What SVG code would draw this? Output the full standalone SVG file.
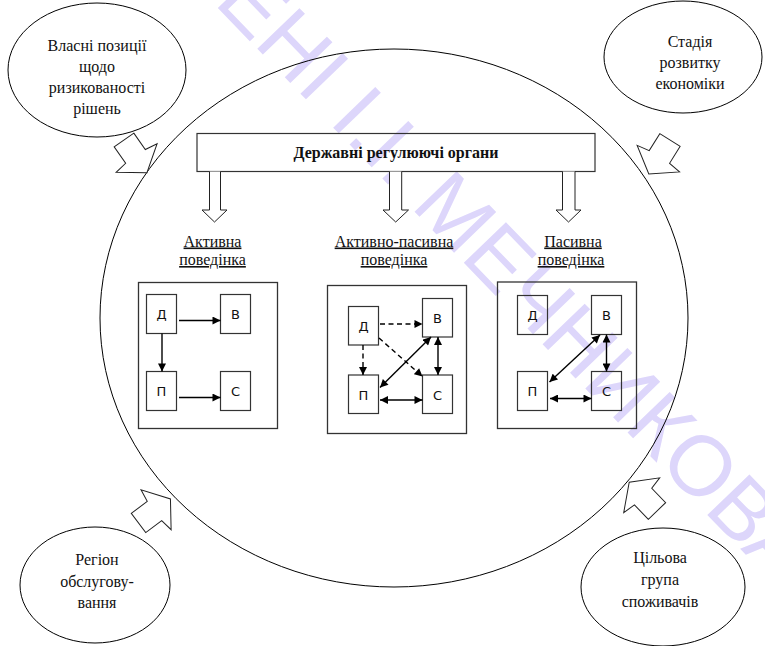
<svg xmlns="http://www.w3.org/2000/svg" width="765" height="646" viewBox="0 0 765 646">
  <style>
    .serif { font-family: "Liberation Serif", "Times New Roman", serif; font-size: 16px; fill: #111; text-anchor: middle; }
    .hdr { font-family: "Liberation Serif", "Times New Roman", serif; font-size: 16px; font-weight: bold; fill: #111; text-anchor: middle; }
    .ttl { text-decoration: underline; }
    .ltr { font-family: "DejaVu Sans", Verdana, sans-serif; font-size: 13px; fill: #111; text-anchor: middle; }
    .line { fill: none; stroke: #000; stroke-width: 1; }
    .oval { fill: #fff; stroke: #000; stroke-width: 1; }
    .frame { fill: none; stroke: #333; stroke-width: 1.3; }
    .cell { fill: none; stroke: #333; stroke-width: 1.2; }
    .hollow { fill: #fff; stroke: #222; stroke-width: 1; }
    .edge { fill: none; stroke: #000; stroke-width: 1.4; }
    .dash { stroke-dasharray: 5 3.5; }
    .wm { font-family: "Liberation Sans", Arial, sans-serif; font-size: 85px; fill: #ddd6fb; }
  </style>
  <defs>
    <marker id="ah" markerUnits="userSpaceOnUse" viewBox="0 0 10 10" refX="10" refY="5" markerWidth="9" markerHeight="8" orient="auto-start-reverse">
      <path d="M0,0 L10,5 L0,10 Z" fill="#000"/>
    </marker>
    <!-- block arrow pointing along +x, rear edge centred on the origin -->
    <path id="blk" d="M0,-12 L20,-12 L22,-25 L40,0 L22,25 L20,12 L0,12 Z"/>
  </defs>

  <rect width="765" height="646" fill="#fff"/>

  <!-- faint background watermark -->
  <text class="wm" transform="translate(213,3) rotate(46)">ЕНІ І.І. МЕЧНИКОВА</text>

  <!-- environment boundary -->
  <ellipse class="line" cx="394" cy="318" rx="294" ry="269"/>

  <!-- outer influence factors -->
  <g id="factor-risk">
    <ellipse class="oval" cx="97" cy="70" rx="89" ry="67"/>
    <text class="serif" x="97" y="51">Власні позиції</text>
    <text class="serif" x="97" y="72">щодо</text>
    <text class="serif" x="97" y="93">ризикованості</text>
    <text class="serif" x="97" y="114">рішень</text>
    <use href="#blk" class="hollow" transform="translate(124,140) rotate(55)"/>
  </g>
  <g id="factor-economy">
    <ellipse class="oval" cx="683" cy="57" rx="79" ry="56"/>
    <text class="serif" x="690" y="47">Стадія</text>
    <text class="serif" x="690" y="68">розвитку</text>
    <text class="serif" x="690" y="89">економіки</text>
    <use href="#blk" class="hollow" transform="translate(670,140) rotate(122)"/>
  </g>
  <g id="factor-region">
    <ellipse class="oval" cx="95" cy="585" rx="75" ry="58"/>
    <text class="serif" x="97" y="565">Регіон</text>
    <text class="serif" x="97" y="587">обслугову-</text>
    <text class="serif" x="97" y="608">вання</text>
    <use href="#blk" class="hollow" transform="translate(138.5,523) rotate(-37)"/>
  </g>
  <g id="factor-target">
    <ellipse class="oval" cx="663" cy="587" rx="82" ry="59"/>
    <text class="serif" x="660" y="563">Цільова</text>
    <text class="serif" x="660" y="585">група</text>
    <text class="serif" x="660" y="607">споживачів</text>
    <use href="#blk" class="hollow" transform="translate(657,511) rotate(-134)"/>
  </g>

  <!-- regulators -->
  <g id="regulators">
    <rect x="197" y="133.5" width="398" height="38" fill="none" stroke="#333" stroke-width="1.2"/>
    <text class="hdr" x="396" y="157.5">Державні регулюючі органи</text>
    <path class="hollow" d="M209.5,171.5 L209.5,210 L202,210 L214.5,222 L227,210 L220.5,210 L220.5,171.5"/>
    <path class="hollow" d="M389.5,171.5 L389.5,210 L383,210 L395.7,222 L408.5,210 L401.7,210 L401.7,171.5"/>
    <path class="hollow" d="M562.5,171.5 L562.5,210 L556,210 L568.5,222 L581,210 L575,210 L575,171.5"/>
  </g>

  <!-- active behaviour -->
  <g id="active">
    <text class="serif ttl" x="212.5" y="246.5">Активна</text>
    <text class="serif ttl" x="212.5" y="265">поведінка</text>
    <rect class="frame" x="138.5" y="282.5" width="139" height="146"/>
    <g id="a-d"><rect class="cell" x="146.5" y="294.5" width="30" height="39"/><text class="ltr" x="161.5" y="319">Д</text></g>
    <g id="a-v"><rect class="cell" x="220.5" y="294.5" width="30" height="39"/><text class="ltr" x="235.5" y="319">В</text></g>
    <g id="a-p"><rect class="cell" x="146.5" y="371.5" width="30" height="39"/><text class="ltr" x="161.5" y="396">П</text></g>
    <g id="a-s"><rect class="cell" x="220.5" y="371.5" width="30" height="39"/><text class="ltr" x="235.5" y="396">С</text></g>
  </g>

  <!-- active-passive behaviour -->
  <g id="active-passive">
    <text class="serif ttl" x="394" y="246.5">Активно-пасивна</text>
    <text class="serif ttl" x="394" y="265">поведінка</text>
    <rect class="frame" x="327.5" y="285.5" width="139" height="148"/>
    <g id="ap-d"><rect class="cell" x="348.5" y="306.5" width="30" height="38.5"/><text class="ltr" x="363.5" y="331">Д</text></g>
    <g id="ap-v"><rect class="cell" x="422.5" y="298.5" width="30" height="38.5"/><text class="ltr" x="437.5" y="323">В</text></g>
    <g id="ap-p"><rect class="cell" x="348.5" y="375" width="30" height="38.5"/><text class="ltr" x="363.5" y="399.5">П</text></g>
    <g id="ap-s"><rect class="cell" x="422.5" y="375" width="30" height="38.5"/><text class="ltr" x="437.5" y="399.5">С</text></g>
  </g>

  <!-- passive behaviour -->
  <g id="passive">
    <text class="serif ttl" x="573" y="246.5">Пасивна</text>
    <text class="serif ttl" x="571" y="265">поведінка</text>
    <rect class="frame" x="497.5" y="282" width="139" height="146.5"/>
    <g id="p-d"><rect class="cell" x="517.5" y="295.5" width="30" height="39"/><text class="ltr" x="532.5" y="320">Д</text></g>
    <g id="p-v"><rect class="cell" x="591.5" y="295.5" width="30" height="39"/><text class="ltr" x="606.5" y="320">В</text></g>
    <g id="p-p"><rect class="cell" x="517.5" y="371.5" width="30" height="39"/><text class="ltr" x="532.5" y="396">П</text></g>
    <g id="p-s"><rect class="cell" x="591.5" y="371.5" width="30" height="39"/><text class="ltr" x="606.5" y="396">С</text></g>
  </g>

  <!-- links between participants -->
  <g id="connectors">
    <path class="edge" d="M179,320.5 L220.5,320.5" marker-end="url(#ah)"/>
    <path class="edge" d="M162,333.5 L162,371.5" marker-end="url(#ah)"/>
    <path class="edge" d="M179,397.5 L220.5,397.5" marker-end="url(#ah)"/>

    <path class="edge dash" d="M380,324 L422.5,324" marker-end="url(#ah)"/>
    <path class="edge dash" d="M363,345 L363,375" marker-end="url(#ah)"/>
    <path class="edge dash" d="M379,338 L422.5,376.5" marker-end="url(#ah)"/>
    <path class="edge" d="M380,387.5 L431,337" marker-start="url(#ah)" marker-end="url(#ah)"/>
    <path class="edge" d="M438,337 L438,375" marker-start="url(#ah)" marker-end="url(#ah)"/>
    <path class="edge" d="M380,400 L422.5,400" marker-start="url(#ah)" marker-end="url(#ah)"/>

    <path class="edge" d="M549.5,382 L600,335" marker-start="url(#ah)" marker-end="url(#ah)"/>
    <path class="edge" d="M606.5,334.5 L606.5,371.5" marker-start="url(#ah)" marker-end="url(#ah)"/>
    <path class="edge" d="M550,398.5 L591.5,398.5" marker-start="url(#ah)" marker-end="url(#ah)"/>
  </g>
</svg>
